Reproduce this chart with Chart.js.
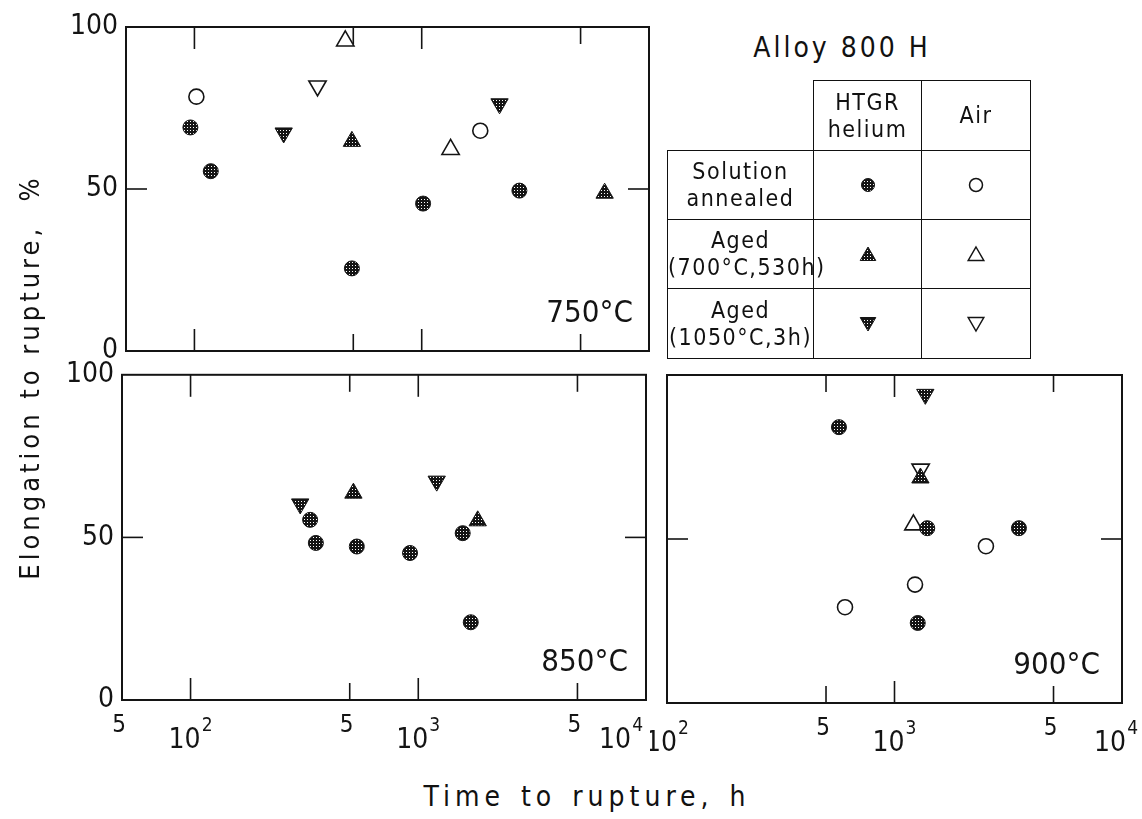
<!DOCTYPE html>
<html><head><meta charset="utf-8">
<script src="https://cdn.jsdelivr.net/npm/chart.js@4.4.1/dist/chart.umd.min.js"></script>
<style>
html,body{margin:0;padding:0;background:#fff;}
body{width:1142px;height:819px;position:relative;overflow:hidden;color:#111;
  font-family:"Liberation Sans Narrow","DejaVu Sans Condensed","Arial Narrow",sans-serif;}
canvas.panel{position:absolute;}
#ytitle{position:absolute;left:-190px;top:362px;width:440px;height:30px;line-height:30px;text-align:center;
  font-size:27px;letter-spacing:4px;white-space:pre;transform:rotate(-90deg);transform-origin:50% 50%;}
#xtitle{position:absolute;left:387px;top:780px;width:400px;height:34px;line-height:34px;text-align:center;
  font-size:28px;letter-spacing:5px;word-spacing:3px;white-space:pre;}
#alloy{position:absolute;left:742px;top:30px;width:200px;height:36px;line-height:36px;text-align:center;
  font-size:28px;letter-spacing:3px;white-space:pre;}
#legend{position:absolute;left:667px;top:80px;width:363px;border-collapse:collapse;table-layout:fixed;}
#legend td{border:1.5px solid #111;padding:0;text-align:center;vertical-align:middle;
  font-size:23px;letter-spacing:1.5px;line-height:27px;white-space:nowrap;overflow:visible;}
#legend td.blank{border-top:none;border-left:none;}
#legend canvas{display:block;margin:0 auto;}
</style></head><body>
<canvas id="c750" class="panel" style="left:0px;top:0px;width:670px;height:380px" width="670" height="380"></canvas>
<canvas id="c850" class="panel" style="left:0px;top:350px;width:670px;height:420px" width="670" height="420"></canvas>
<canvas id="c900" class="panel" style="left:650px;top:350px;width:492px;height:420px" width="492" height="420"></canvas>

<div id="ytitle">Elongation to rupture,  %</div>
<div id="xtitle">Time to rupture, h</div>
<div id="alloy">Alloy 800 H</div>

<table id="legend">
<colgroup><col style="width:146px"><col style="width:108px"><col style="width:109px"></colgroup>
<tr style="height:70px"><td class="blank"></td><td>HTGR<br>helium</td><td>Air</td></tr>
<tr style="height:69px"><td>Solution<br>annealed</td><td><canvas id="lg0" width="22" height="22"></canvas></td><td><canvas id="lg1" width="22" height="22"></canvas></td></tr>
<tr style="height:69px"><td>Aged<br>(700°C,530h)</td><td><canvas id="lg2" width="22" height="22"></canvas></td><td><canvas id="lg3" width="22" height="22"></canvas></td></tr>
<tr style="height:70px"><td>Aged<br>(1050°C,3h)</td><td><canvas id="lg4" width="22" height="22"></canvas></td><td><canvas id="lg5" width="22" height="22"></canvas></td></tr>
</table>

<script>
// ---------------- data (time to rupture h, elongation %) ----------------
// 750 °C
const t750_heSA   = [96, 118, 493, 1014, 2690];
const e750_heSA   = [69, 55.5, 25.5, 45.5, 49.5];
const t750_he700  = [493, 6380];
const e750_he700  = [64.7, 48.7];
const t750_he1050 = [247, 2200];
const e750_he1050 = [67.3, 76.3];
const t750_airSA  = [102, 1810];
const e750_airSA  = [78.5, 68];
const t750_air700 = [461, 1340];
const e750_air700 = [95.7, 62.2];
const t750_air1050 = [348];
const e750_air1050 = [81.8];
// 850 °C
const t850_heSA   = [335, 355, 537, 920, 1567, 1700];
const e850_heSA   = [55.4, 48.3, 47.2, 45.2, 51.3, 23.9];
const t850_he700  = [519, 1824];
const e850_he700  = [63.6, 55.1];
const t850_he1050 = [303, 1205];
const e850_he1050 = [60.3, 67.3];
// 900 °C
const t900_heSA   = [570, 1393, 3523, 1265];
const e900_heSA   = [84.1, 53.3, 53.3, 24.4];
const t900_he700  = [1300];
const e900_he700  = [68.6];
const t900_he1050 = [1366];
const e900_he1050 = [94.1];
const t900_airSA  = [606, 1231, 2523];
const e900_airSA  = [29.2, 36.1, 47.8];
const t900_air700 = [1211];
const e900_air700 = [54.3];
const t900_air1050 = [1303];
const e900_air1050 = [71.3];

// ticks
const yTickValues = [0, 50, 100];
const xTickValuesLeft  = [50, 100, 500, 1000, 5000, 10000];
const xTickLabelsLeft  = ['5', '10^2', '5', '10^3', '5', '10^4'];
const xTickValuesRight = [100, 500, 1000, 5000, 10000];
const xTickLabelsRight = ['10^2', '5', '10^3', '5', '10^4'];
const panelLabels = ['750°C', '850°C', '900°C'];

// ---------------- styling ----------------
const INK = '#141414';
const FONT = '"Liberation Sans Narrow","DejaVu Sans Condensed","Arial Narrow",sans-serif';
Chart.defaults.font.family = FONT;
Chart.defaults.color = INK;

function stippleFor(ctx) {
  const c = document.createElement('canvas'); c.width = 3; c.height = 3;
  const g = c.getContext('2d');
  g.fillStyle = INK; g.fillRect(0, 0, 3, 3);
  g.fillStyle = '#ffffff'; g.fillRect(1, 1, 1, 1);
  return ctx.createPattern(c, 'repeat');
}

function series(t, e, kind, pattern) {
  const filled = kind.startsWith('he');
  const shape = kind.endsWith('SA') ? 'circle' : 'triangle';
  const rot = kind.endsWith('1050') ? 180 : 0;
  return {
    data: t.map((x, i) => ({x: x, y: e[i]})),
    pointStyle: shape,
    pointRadius: shape === 'circle' ? 7.5 : 10,
    pointRotation: rot,
    pointBackgroundColor: filled ? pattern : '#ffffff',
    pointBorderColor: INK,
    pointBorderWidth: filled ? 1 : 1.6,
    clip: false
  };
}

function line(ctx, x1, y1, x2, y2) { ctx.beginPath(); ctx.moveTo(x1, y1); ctx.lineTo(x2, y2); ctx.stroke(); }

const panelDecor = {
  id: 'panelDecor',
  beforeDatasetsDraw(chart, args, o) {
    const ctx = chart.ctx, a = chart.chartArea, xs = chart.scales.x, ys = chart.scales.y;
    ctx.save();
    ctx.strokeStyle = INK; ctx.lineWidth = 2;
    ctx.strokeRect(a.left, a.top, a.right - a.left, a.bottom - a.top);
    ctx.lineWidth = 1.6;
    o.ticks.forEach((v, i) => {
      if (v <= xs.min || v >= xs.max) return;
      const px = xs.getPixelForValue(v);
      const major = o.labels[i].startsWith('10');
      const len = major ? 22 : 17;
      line(ctx, px, a.bottom, px, a.bottom - len);
      line(ctx, px, a.top, px, a.top + len);
    });
    const py = ys.getPixelForValue(50);
    line(ctx, a.left, py, a.left + 21, py);
    line(ctx, a.right, py, a.right - 21, py);
    ctx.restore();
  },
  afterDraw(chart, args, o) {
    const ctx = chart.ctx, a = chart.chartArea, xs = chart.scales.x;
    ctx.save();
    ctx.fillStyle = INK;
    if (o.showX) {
      o.ticks.forEach((v, i) => {
        const px = xs.getPixelForValue(v);
        const lab = o.labels[i];
        if (lab.includes('^')) {
          const [base, ex] = lab.split('^');
          ctx.font = '28px ' + FONT; const wb = ctx.measureText(base).width;
          ctx.font = '19px ' + FONT; const we = ctx.measureText(ex).width;
          const total = wb + we + 1;
          let x0 = px - total / 2;
          if (i === o.ticks.length - 1) x0 = px - total - o.lastShift;
          ctx.textAlign = 'left'; ctx.textBaseline = 'middle';
          ctx.font = '28px ' + FONT; ctx.fillText(base, x0, a.bottom + 41);
          ctx.font = '19px ' + FONT; ctx.fillText(ex, x0 + wb + 1, a.bottom + 26);
        } else {
          ctx.font = '24px ' + FONT; ctx.textAlign = 'center'; ctx.textBaseline = 'middle';
          ctx.fillText(lab, px - 3, a.bottom + 26);
        }
      });
    }
    ctx.font = '31px ' + FONT; ctx.textAlign = 'right'; ctx.textBaseline = 'alphabetic';
    ctx.fillText(o.label, a.right - o.labelRight, a.bottom - 29);
    ctx.restore();
  }
};

function makePanel(id, datasets, xMin, xMax, cfg) {
  const el = document.getElementById(id);
  return new Chart(el, {
    type: 'scatter',
    data: {datasets: datasets},
    options: {
      responsive: false, animation: false, events: [],
      layout: {padding: cfg.padding},
      plugins: {legend: {display: false}, tooltip: {enabled: false}, panelDecor: cfg.decor},
      scales: {
        x: {type: 'logarithmic', min: xMin, max: xMax, display: false},
        y: {
          min: 0, max: 100,
          afterBuildTicks: s => { s.ticks = yTickValues.map(v => ({value: v})); },
          grid: {display: false, drawTicks: false}, border: {display: false},
          ticks: {display: cfg.yLabels, padding: 8, color: INK, font: {size: 28, family: FONT}},
          afterFit: s => { s.width = cfg.yWidth; }
        }
      }
    },
    plugins: [panelDecor]
  });
}

// 750
(function () {
  const p = stippleFor(document.getElementById('c750').getContext('2d'));
  makePanel('c750', [
    series(t750_heSA, e750_heSA, 'heSA', p),
    series(t750_he700, e750_he700, 'he700', p),
    series(t750_he1050, e750_he1050, 'he1050', p),
    series(t750_airSA, e750_airSA, 'airSA', p),
    series(t750_air700, e750_air700, 'air700', p),
    series(t750_air1050, e750_air1050, 'air1050', p)
  ], 50, 10000, {
    padding: {left: 0, top: 27, right: 21, bottom: 29}, yWidth: 126, yLabels: true,
    decor: {ticks: xTickValuesLeft, labels: xTickLabelsLeft, showX: false, label: panelLabels[0], labelRight: 16}
  });
})();
// 850
(function () {
  const p = stippleFor(document.getElementById('c850').getContext('2d'));
  makePanel('c850', [
    series(t850_heSA, e850_heSA, 'heSA', p),
    series(t850_he700, e850_he700, 'he700', p),
    series(t850_he1050, e850_he1050, 'he1050', p)
  ], 50, 10000, {
    padding: {left: 0, top: 23, right: 24, bottom: 70}, yWidth: 122, yLabels: true,
    decor: {ticks: xTickValuesLeft, labels: xTickLabelsLeft, showX: true, lastShift: 3, label: panelLabels[1], labelRight: 18}
  });
})();
// 900
(function () {
  const p = stippleFor(document.getElementById('c900').getContext('2d'));
  makePanel('c900', [
    series(t900_heSA, e900_heSA, 'heSA', p),
    series(t900_he700, e900_he700, 'he700', p),
    series(t900_he1050, e900_he1050, 'he1050', p),
    series(t900_airSA, e900_airSA, 'airSA', p),
    series(t900_air700, e900_air700, 'air700', p),
    series(t900_air1050, e900_air1050, 'air1050', p)
  ], 100, 10000, {
    padding: {left: 0, top: 25, right: 20, bottom: 67}, yWidth: 17, yLabels: false,
    decor: {ticks: xTickValuesRight, labels: xTickLabelsRight, showX: true, lastShift: -16, label: panelLabels[2], labelRight: 22}
  });
})();

// legend symbols
(function () {
  const kinds = ['heSA', 'airSA', 'he700', 'air700', 'he1050', 'air1050'];
  kinds.forEach((k, i) => {
    const c = document.getElementById('lg' + i);
    const g = c.getContext('2d');
    const filled = k.startsWith('he');
    g.fillStyle = filled ? stippleFor(g) : '#ffffff';
    g.strokeStyle = INK; g.lineWidth = filled ? 1 : 1.5;
    g.beginPath();
    if (k.endsWith('SA')) {
      g.arc(11, 11, 6.5, 0, Math.PI * 2);
    } else {
      const r = 9, s = k.endsWith('1050') ? -1 : 1, cy = 11 + s * 2;
      g.moveTo(11, cy - s * r);
      g.lineTo(11 + r * 0.866, cy + s * r / 2);
      g.lineTo(11 - r * 0.866, cy + s * r / 2);
      g.closePath();
    }
    g.fill(); g.stroke();
  });
})();
</script>
</body></html>
